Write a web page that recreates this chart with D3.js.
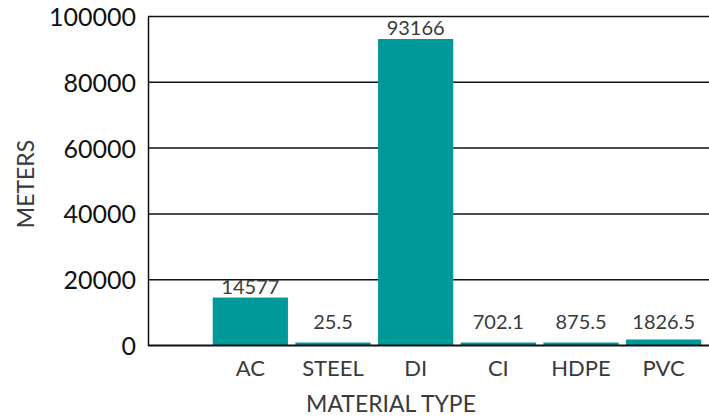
<!DOCTYPE html>
<html lang="en">
<head>
  <meta charset="UTF-8">
  <style>
    body { margin: 0; overflow: hidden; background: #fff; }
    svg { display: block; }
    text { font-family: "Lato", "Open Sans", sans-serif; }
  </style>
  <script src="https://d3js.org/d3.v7.min.js"></script>
</head>
<body>
<svg id="chart"></svg>
<script>
  // chart data
  const categories = ["AC", "STEEL", "DI", "CI", "HDPE", "PVC"];
  const meters = [14577, 25.5, 93166, 702.1, 875.5, 1826.5];
  const labels = ["14577", "25.5", "93166", "702.1", "875.5", "1826.5"];
  const yTicks = [0, 20000, 40000, 60000, 80000, 100000];

  const width = 709, height = 417;
  const svg = d3.select("#chart").attr("width", width).attr("height", height);

  const plotLeft = 148, plotRight = 709, plotTop = 16.5, plotBottom = 345.5;

  const x = d3.scaleBand()
    .domain(categories)
    .range([209, 705])
    .paddingInner(0.09)
    .paddingOuter(0.045);

  const y = d3.scaleLinear().domain([0, 100000]).range([plotBottom, plotTop]);

  // gridlines
  svg.append("g")
    .selectAll("line")
    .data(yTicks.slice(1))
    .join("line")
    .attr("x1", plotLeft).attr("x2", plotRight)
    .attr("y1", d => y(d)).attr("y2", d => y(d))
    .attr("stroke", "#111").attr("stroke-width", 1.5);

  // y axis
  const yAxis = svg.append("g")
    .attr("transform", `translate(${plotLeft},0)`)
    .call(d3.axisLeft(y).tickValues(yTicks).tickSize(0).tickPadding(12).tickFormat(d3.format("d")));
  yAxis.select(".domain").attr("stroke", "#111").attr("stroke-width", 1.5);
  yAxis.selectAll("text")
    .attr("font-size", 25).attr("fill", "#111")
    .attr("dy", "0.36em")
    .style("font-family", "Lato, sans-serif");

  // bars
  svg.append("g")
    .selectAll("rect")
    .data(categories)
    .join("rect")
    .attr("x", d => x(d))
    .attr("width", x.bandwidth())
    .attr("y", (d, i) => Math.min(y(meters[i]), plotBottom - 3))
    .attr("height", (d, i) => Math.max(plotBottom - y(meters[i]), 3))
    .attr("fill", "#00999a");

  // baseline
  svg.append("line")
    .attr("x1", plotLeft).attr("x2", plotRight)
    .attr("y1", plotBottom).attr("y2", plotBottom)
    .attr("stroke", "#111").attr("stroke-width", 2);

  // bar value labels
  svg.append("g")
    .selectAll("text")
    .data(categories)
    .join("text")
    .attr("x", d => x(d) + x.bandwidth() / 2)
    .attr("y", (d, i) => Math.min(y(meters[i]), plotBottom - 13) - 4)
    .attr("text-anchor", "middle")
    .attr("font-size", 20)
    .attr("fill", "#3a3a3a")
    .text((d, i) => labels[i]);

  // category labels
  svg.append("g")
    .selectAll("text")
    .data(categories)
    .join("text")
    .attr("x", d => x(d) + x.bandwidth() / 2)
    .attr("y", 376)
    .attr("text-anchor", "middle")
    .attr("font-size", 22)
    .attr("fill", "#3a3a3a")
    .text(d => d);

  // axis titles
  svg.append("text")
    .attr("x", 391).attr("y", 412)
    .attr("text-anchor", "middle")
    .attr("font-size", 23)
    .attr("fill", "#3a3a3a")
    .text("MATERIAL TYPE");

  svg.append("text")
    .attr("transform", "translate(34,184) rotate(-90)")
    .attr("text-anchor", "middle")
    .attr("font-size", 23)
    .attr("fill", "#3a3a3a")
    .text("METERS");
</script>
</body>
</html>
